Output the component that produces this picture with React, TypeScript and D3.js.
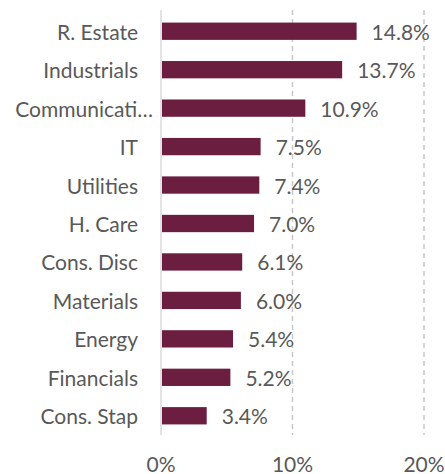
import React from "react";
import * as d3 from "d3";

const categories = ["R. Estate", "Industrials", "Communicati…", "IT", "Utilities", "H. Care", "Cons. Disc", "Materials", "Energy", "Financials", "Cons. Stap"];
const values = [14.8, 13.7, 10.9, 7.5, 7.4, 7.0, 6.1, 6.0, 5.4, 5.2, 3.4];
const ticks = [0, 10, 20];

const W = 445;
const H = 474;
const left = 161;
const right = 424;
const top = 12;
const bottom = 435;
const font = "Lato, 'Open Sans', sans-serif";
const fs = 21;
const textColor = "#595959";
const barColor = "#6B1E40";

export default function App() {
  const x = d3.scaleLinear().domain([0, 20]).range([left, right]);
  const y = d3.scaleBand<string>().domain(categories).range([top, bottom]).paddingInner(0.55).paddingOuter(0.275);
  return (
    <svg width={W} height={H} style={{ position: "absolute", left: 0, top: 0, background: "#fff" }}>
      {ticks.slice(1).map((t) => (
        <line key={t} x1={x(t)} x2={x(t)} y1={top - 2} y2={bottom} stroke="#c8c8c8" strokeWidth={1.5} strokeDasharray="5,4" />
      ))}
      <line x1={x(0)} x2={x(0)} y1={top - 2} y2={bottom} stroke="#d0d0d0" strokeWidth={1.2} />
      {categories.map((c, i) => (
        <g key={c}>
          <rect x={x(0) + 1} y={y(c)} width={x(values[i]) - x(0)} height={y.bandwidth()} fill={barColor} />
          <text x={c.endsWith("…") ? 153 : 138} y={(y(c) as number) + y.bandwidth() / 2} textAnchor="end" dominantBaseline="central" fontFamily={font} fontSize={fs} fill={textColor}>{c}</text>
          <text x={x(values[i]) + 16} y={(y(c) as number) + y.bandwidth() / 2} dominantBaseline="central" fontFamily={font} fontSize={fs} fill={textColor}>{values[i].toFixed(1) + "%"}</text>
        </g>
      ))}
      {ticks.map((t) => (
        <text key={t} x={x(t)} y={463} textAnchor="middle" dominantBaseline="central" fontFamily={font} fontSize={fs} fill={textColor}>{t + "%"}</text>
      ))}
    </svg>
  );
}
